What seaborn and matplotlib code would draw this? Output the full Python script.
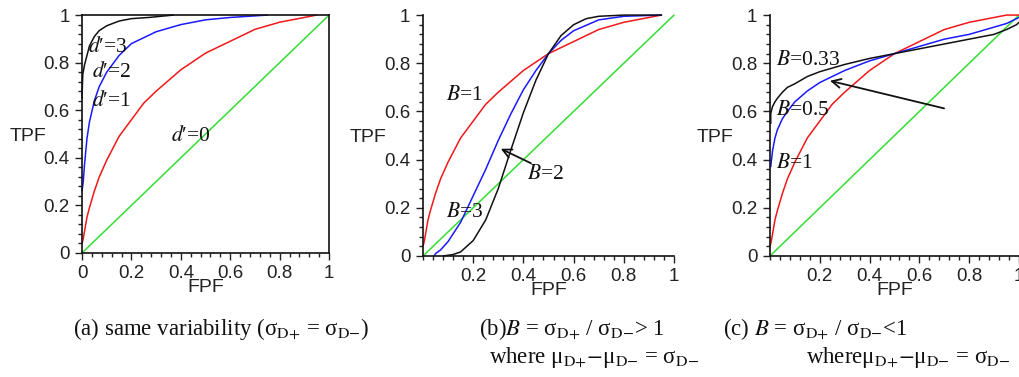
import numpy as np
import pandas as pd
import seaborn as sns
import matplotlib.pyplot as plt
from matplotlib.ticker import MultipleLocator

# ---- values ----
# panel (a): equal variance, d' = 0..3
a_d0_fpf = [0, 0.5, 1]
a_d0_tpf = [0, 0.5, 1]
a_d1_fpf = [0, 0.005, 0.01, 0.02, 0.03, 0.05, 0.07, 0.1, 0.15, 0.2, 0.25, 0.3, 0.4, 0.5, 0.6, 0.7, 0.8, 0.9, 0.95]
a_d1_tpf = [0.04, 0.06, 0.09, 0.15, 0.19, 0.26, 0.32, 0.39, 0.49, 0.56, 0.63, 0.68, 0.77, 0.84, 0.89, 0.94, 0.97, 0.99, 1.0]
a_d2_fpf = [0, 0.005, 0.01, 0.02, 0.03, 0.05, 0.07, 0.1, 0.15, 0.2, 0.3, 0.4, 0.5, 0.6, 0.75]
a_d2_tpf = [0.26, 0.30, 0.37, 0.48, 0.55, 0.64, 0.70, 0.76, 0.83, 0.88, 0.93, 0.96, 0.98, 0.99, 1.0]
a_d3_fpf = [0, 0.003, 0.01, 0.02, 0.03, 0.05, 0.07, 0.1, 0.15, 0.2, 0.27, 0.37]
a_d3_tpf = [0.65, 0.75, 0.79, 0.83, 0.87, 0.91, 0.935, 0.955, 0.975, 0.985, 0.99, 1.0]

# panel (b): B > 1
b_diag_fpf = [0, 0.5, 1]
b_diag_tpf = [0, 0.5, 1]
b_b1_fpf = a_d1_fpf
b_b1_tpf = a_d1_tpf
b_b2_fpf = [0.045, 0.05, 0.07, 0.1, 0.15, 0.2, 0.25, 0.3, 0.35, 0.4, 0.45, 0.5, 0.55, 0.6, 0.7, 0.8, 0.95]
b_b2_tpf = [0.0, 0.01, 0.025, 0.06, 0.14, 0.25, 0.36, 0.48, 0.59, 0.69, 0.77, 0.84, 0.895, 0.935, 0.98, 0.995, 1.0]
b_b3_fpf = [0.08, 0.12, 0.15, 0.2, 0.25, 0.3, 0.35, 0.4, 0.45, 0.5, 0.55, 0.6, 0.65, 0.7, 0.8, 0.95]
b_b3_tpf = [0.0, 0.006, 0.017, 0.064, 0.15, 0.28, 0.44, 0.595, 0.73, 0.84, 0.915, 0.96, 0.985, 0.995, 1.0, 1.0]

# panel (c): B < 1
c_diag_fpf = [0, 0.5, 1]
c_diag_tpf = [0, 0.5, 1]
c_b1_fpf = a_d1_fpf + [1.0]
c_b1_tpf = a_d1_tpf + [1.0]
c_b05_fpf = [0.003, 0.005, 0.01, 0.02, 0.03, 0.05, 0.07, 0.1, 0.15, 0.2, 0.3, 0.4, 0.5, 0.6, 0.7, 0.8, 0.9, 0.95, 0.99, 1.0]
c_b05_tpf = [0.37, 0.39, 0.435, 0.49, 0.525, 0.57, 0.60, 0.64, 0.685, 0.72, 0.77, 0.81, 0.84, 0.87, 0.90, 0.92, 0.95, 0.965, 0.985, 0.99]
c_b033_fpf = [0.003, 0.003, 0.005, 0.01, 0.02, 0.03, 0.05, 0.07, 0.1, 0.15, 0.2, 0.3, 0.4, 0.5, 0.6, 0.7, 0.8, 0.9, 0.95, 0.99, 1.0]
c_b033_tpf = [0.55, 0.59, 0.60, 0.62, 0.64, 0.655, 0.68, 0.70, 0.715, 0.745, 0.765, 0.795, 0.82, 0.84, 0.86, 0.88, 0.90, 0.92, 0.94, 0.96, 0.97]

tick_vals = [0, 0.2, 0.4, 0.6, 0.8, 1]
tick_text = ['0', '0.2', '0.4', '0.6', '0.8', '1']

captions = [
    r'(a) same variability (σ$_{\rm D{+}}$ = σ$_{\rm D{-}}$)',
    r'(b)$B$ = σ$_{\rm D{+}}$ / σ$_{\rm D{-}}$> 1',
    r'where μ$_{\rm D{+}}$$-$μ$_{\rm D{-}}$ = σ$_{\rm D{-}}$',
    r'(c) $B$ = σ$_{\rm D{+}}$ / σ$_{\rm D{-}}$<1',
    r'whereμ$_{\rm D{+}}$$-$μ$_{\rm D{-}}$ = σ$_{\rm D{-}}$',
]

colors = {'green': '#33dd33', 'red': '#f01818', 'blue': '#1a1aff', 'black': '#111111'}


def make_df(curves):
    parts = []
    for name, x, y in curves:
        parts.append(pd.DataFrame({'fpf': x, 'tpf': y, 'curve': name}))
    return pd.concat(parts, ignore_index=True)


sns.set_style('white')
plt.rcParams['font.family'] = ['Liberation Sans', 'DejaVu Sans']
plt.rcParams['mathtext.fontset'] = 'stix'

fig = plt.figure(figsize=(10.2, 3.77), dpi=100)
ax_a = fig.add_axes([0.0804, 0.329, 0.2422, 0.631])
ax_b = fig.add_axes([0.4147, 0.321, 0.2461, 0.639])
ax_c = fig.add_axes([0.7549, 0.321, 0.2441, 0.639])

df_a = make_df([('green', a_d0_fpf, a_d0_tpf), ('red', a_d1_fpf, a_d1_tpf),
                ('blue', a_d2_fpf, a_d2_tpf), ('black', a_d3_fpf, a_d3_tpf)])
df_b = make_df([('green', b_diag_fpf, b_diag_tpf), ('red', b_b1_fpf, b_b1_tpf),
                ('blue', b_b2_fpf, b_b2_tpf), ('black', b_b3_fpf, b_b3_tpf)])
df_c = make_df([('green', c_diag_fpf, c_diag_tpf), ('red', c_b1_fpf, c_b1_tpf),
                ('blue', c_b05_fpf, c_b05_tpf), ('black', c_b033_fpf, c_b033_tpf)])

for ax, df, show_x0, box in [(ax_a, df_a, True, True), (ax_b, df_b, False, False), (ax_c, df_c, False, False)]:
    sns.lineplot(data=df, x='fpf', y='tpf', hue='curve', palette=colors,
                 estimator=None, sort=False, legend=False, lw=1.1, clip_on=False, ax=ax)
    ax.set_xlim(0, 1)
    ax.set_ylim(0, 1)
    ax.set_yticks(tick_vals)
    ax.set_yticklabels(tick_text)
    if show_x0:
        ax.set_xticks(tick_vals)
        ax.set_xticklabels(tick_text)
    else:
        ax.set_xticks(tick_vals[1:])
        ax.set_xticklabels(tick_text[1:])
    ax.xaxis.set_minor_locator(MultipleLocator(0.04))
    ax.yaxis.set_minor_locator(MultipleLocator(0.04))
    ax.tick_params(which='major', direction='out', length=5, width=1, labelsize=13.5,
                   pad=4, colors='#222222', left=True, bottom=True)
    ax.tick_params(which='minor', direction='out', length=3, width=1, left=True, bottom=True,
                   colors='#222222')
    for side in ['left', 'bottom']:
        ax.spines[side].set_color('#111111')
        ax.spines[side].set_linewidth(1.2)
    for side in ['top', 'right']:
        ax.spines[side].set_visible(box)
        ax.spines[side].set_color('#111111')
        ax.spines[side].set_linewidth(1.2)
    ax.set_xlabel('FPF', fontsize=14, color='#222222', va='center')
    ax.set_ylabel('TPF', fontsize=14, color='#222222', rotation=0, ha='center', va='center')
    ax.xaxis.set_label_coords(0.5, -0.145)
    ax.yaxis.set_label_coords(-0.22, 0.49)
    ax.set_facecolor('white')

serif = ['Liberation Serif', 'DejaVu Serif']
lab = dict(fontsize=15.5, family=serif, color='#111111', va='center', ha='left')

ax_a.text(0.025, 0.865, r"$d$′=3", **lab)
ax_a.text(0.04, 0.76, r"$d$′=2", **lab)
ax_a.text(0.04, 0.64, r"$d$′=1", **lab)
ax_a.text(0.36, 0.49, r"$d$′=0", **lab)

ax_b.text(0.09, 0.665, r'$B$=1', **lab)
ax_b.text(0.09, 0.18, r'$B$=3', **lab)
ax_b.text(0.415, 0.34, r'$B$=2', **lab)
ax_b.annotate('', xy=(0.30, 0.45), xytext=(0.44, 0.38),
              arrowprops=dict(arrowstyle='->', color='#111111', lw=1.3, mutation_scale=16))

ax_c.text(0.025, 0.81, r'$B$=0.33', **lab)
ax_c.text(0.025, 0.605, r'$B$=0.5', **lab)
ax_c.text(0.025, 0.385, r'$B$=1', **lab)
ax_c.annotate('', xy=(0.23, 0.73), xytext=(0.71, 0.61),
              arrowprops=dict(arrowstyle='->', color='#111111', lw=1.3, mutation_scale=16))

cap = dict(fontsize=16.5, family=serif, color='#111111', va='center', ha='left')
fig.text(0.0716, 0.126, captions[0], **cap)
fig.text(0.470, 0.126, captions[1], **cap)
fig.text(0.479, 0.051, captions[2], **cap)
fig.text(0.709, 0.126, captions[3], **cap)
fig.text(0.790, 0.051, captions[4], **cap)

fig.savefig('out.png', dpi=100, facecolor='white')
